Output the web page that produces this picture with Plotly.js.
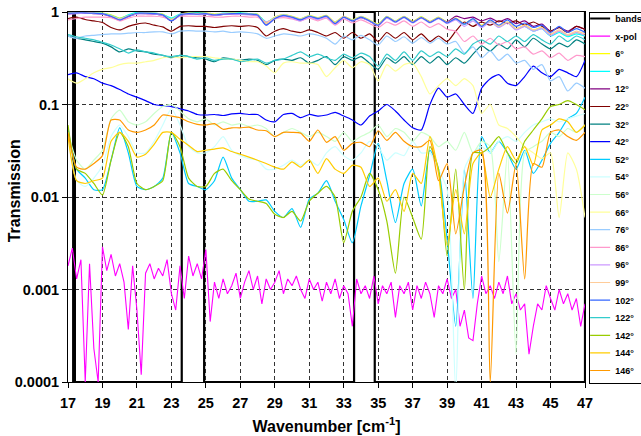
<!DOCTYPE html>
<html>
<head>
<meta charset="utf-8">
<script src="https://cdn.plot.ly/plotly-3.0.1.min.js"></script>
<style>html,body{margin:0;padding:0;background:#fff;overflow:hidden}#chart{width:641px;height:436px}</style>
</head>
<body>
<div id="chart"></div>
<script>
// Wavenumber grids (cm^-1)
const wn = [17,17.5,18,18.5,19,19.5,20,20.5,21,21.5,22,22.5,23,23.5,24,24.5,25,25.5,26,26.5,27,27.5,28,28.5,29,29.5,30,30.5,31,31.5,32,32.5,33,33.5,34,34.5,35,35.5,36,36.5,37,37.5,38,38.5,39,39.5,40,40.5,41,41.5,42,42.5,43,43.5,44,44.5,45,45.5,46,46.5,47];
const wnFine = [17,17.25,17.5,17.75,18,18.25,18.5,18.75,19,19.25,19.5,19.75,20,20.25,20.5,20.75,21,21.25,21.5,21.75,22,22.25,22.5,22.75,23,23.25,23.5,23.75,24,24.25,24.5,24.75,25,25.25,25.5,25.75,26,26.25,26.5,26.75,27,27.25,27.5,27.75,28,28.25,28.5,28.75,29,29.25,29.5,29.75,30,30.25,30.5,30.75,31,31.25,31.5,31.75,32,32.25,32.5,32.75,33,33.25,33.5,33.75,34,34.25,34.5,34.75,35,35.25,35.5,35.75,36,36.25,36.5,36.75,37,37.25,37.5,37.75,38,38.25,38.5,38.75,39,39.25,39.5,39.75,40,40.25,40.5,40.75,41,41.25,41.5,41.75,42,42.25,42.5,42.75,43,43.25,43.5,43.75,44,44.25,44.5,44.75,45,45.25,45.5,45.75,46,46.25,46.5,46.75,47];

// Bands (outline of band regions)
const bandX = [17.3,17.3,17.4,17.4,23.6,23.6,24.9,24.9,33.6,33.6,34.8,34.8,47,47];
const bandY = [0.0001,1,1,0.0001,0.0001,1,1,0.0001,0.0001,1,1,0.0001,0.0001,1];

const xpol = [0.0018,0.0028,0.0013,0.0021, 0.0001,0.0019,0.00023,0.0001, 0.0029,0.0016,0.0024,0.0014, 0.0019,0.0012,0.00037,0.0018, 0.0006,0.00012,0.0015,0.0019, 0.0013,0.0017,0.0014,0.0021, 0.0009,0.0006,0.0018,0.0008, 0.0023,0.0014,0.0019,0.0013, 0.0027,0.00045,0.0012,0.0008, 0.0013,0.0009,0.0011,0.0015, 0.0008,0.0012,0.0016,0.001, 0.0014,0.0007,0.0013,0.001, 0.0012,0.0016,0.0009,0.0013, 0.0011,0.0014,0.001,0.0008, 0.0013,0.001,0.0012,0.00075, 0.0012,0.0009,0.0013,0.0008, 0.0011,0.0009,0.0004,0.0013, 0.0009,0.0011,0.0008,0.0014, 0.0007,0.0011,0.0009,0.0012, 0.0005,0.0011,0.0009,0.0012, 0.0006,0.0011,0.0008,0.0012, 0.0009,0.0005,0.0011,0.0009, 0.0013,0.0008,0.001,0.0004, 0.0006,0.0003,0.00028,0.0007, 0.0014,0.0009,0.0011,0.0008, 0.0012,0.0009,0.0014,0.0007, 0.0009,0.0006,0.0007,0.0002, 0.0004,0.0007,0.0006,0.0011, 0.0008,0.0006,0.001,0.0007, 0.0009,0.0006,0.0008,0.0004, 0.0007];

const t6 = [0.98,1.0,0.99,0.98,0.97,0.93,0.86,0.92,0.98,0.99, 0.97,0.95,0.84,0.94,0.98,0.97,0.98,0.95,0.96,0.98, 0.97,0.96,0.95,0.76,0.88,0.94,0.9,0.85,0.92,0.87, 0.92,0.78,0.9,0.82,0.9,0.82,0.74,0.9,0.8,0.9, 0.79,0.89,0.79,0.88,0.78,0.86,0.75,0.84,0.72,0.8, 0.7,0.78,0.66,0.72,0.64,0.68,0.56,0.62,0.55,0.6, 0.55];
const t9 = [0.96,0.99,1.0,0.99,0.97,0.92,0.85,0.93,0.99,0.98, 0.98,0.94,0.86,0.95,0.97,0.98,0.97,0.94,0.97,0.97, 0.98,0.96,0.94,0.78,0.87,0.93,0.89,0.84,0.91,0.86, 0.91,0.77,0.89,0.81,0.89,0.81,0.73,0.89,0.79,0.89, 0.78,0.88,0.78,0.87,0.77,0.84,0.73,0.83,0.7,0.79, 0.69,0.77,0.65,0.7,0.62,0.66,0.55,0.6,0.54,0.58, 0.55];
const t12 = [0.95,0.97,0.97,0.96,0.95,0.89,0.82,0.89,0.96,0.96, 0.95,0.92,0.8,0.92,0.95,0.94,0.95,0.92,0.94,0.95, 0.95,0.94,0.92,0.73,0.85,0.91,0.87,0.82,0.89,0.84, 0.9,0.76,0.88,0.8,0.87,0.8,0.72,0.87,0.78,0.88, 0.78,0.87,0.78,0.86,0.78,0.9,0.85,0.88,0.8,0.86, 0.78,0.85,0.75,0.8,0.7,0.74,0.62,0.68,0.62,0.7, 0.65];
const t22 = [0.85,0.88,0.83,0.8,0.77,0.68,0.64,0.7,0.74,0.76, 0.72,0.69,0.62,0.7,0.71,0.7,0.7,0.68,0.7,0.71, 0.7,0.71,0.68,0.55,0.62,0.66,0.62,0.6,0.64,0.6, 0.55,0.6,0.52,0.6,0.52,0.58,0.48,0.6,0.52,0.6, 0.5,0.58,0.48,0.55,0.48,0.62,0.78,0.7,0.78,0.72, 0.8,0.75,0.8,0.72,0.78,0.7,0.62,0.68,0.6,0.7, 0.65];
const t32 = [0.55,0.52,0.5,0.48,0.46,0.42,0.37,0.4,0.38,0.37, 0.35,0.34,0.32,0.34,0.33,0.32,0.31,0.29,0.32,0.31, 0.3,0.31,0.3,0.27,0.3,0.31,0.3,0.32,0.28,0.3, 0.33,0.27,0.33,0.3,0.33,0.28,0.24,0.32,0.28,0.33, 0.27,0.33,0.28,0.33,0.27,0.32,0.28,0.35,0.43,0.38, 0.45,0.4,0.5,0.42,0.52,0.45,0.4,0.46,0.42,0.5, 0.45];
const t42 = [0.21,0.22,0.2,0.19,0.17,0.16,0.145,0.13,0.12,0.11, 0.1,0.097,0.095,0.09,0.085,0.078,0.077,0.078,0.076,0.079, 0.08,0.078,0.078,0.068,0.065,0.078,0.08,0.072,0.078,0.075, 0.077,0.082,0.075,0.068,0.06,0.075,0.085,0.1,0.085,0.068, 0.056,0.053,0.1,0.15,0.12,0.13,0.1,0.08,0.15,0.19, 0.21,0.17,0.16,0.2,0.26,0.22,0.2,0.24,0.22,0.2, 0.3];
const t52 = [0.055,0.02,0.016,0.012,0.012,0.025,0.056,0.03,0.013,0.012, 0.013,0.016,0.05,0.03,0.014,0.013,0.012,0.015,0.027,0.016, 0.012,0.009,0.009,0.0093,0.007,0.006,0.0075,0.0047,0.0095,0.011, 0.015,0.009,0.0057,0.0032,0.008,0.017,0.038,0.015,0.0053,0.014, 0.02,0.008,0.032,0.02,0.0035,0.0004,0.02,0.0008,0.045,0.03, 0.04,0.03,0.02,0.032,0.018,0.025,0.038,0.05,0.07,0.08, 0.12];
const t54 = [0.05,0.015,0.013,0.016,0.022,0.045,0.06,0.045,0.03,0.03, 0.04,0.06,0.09,0.06,0.035,0.03,0.03,0.035,0.045,0.032, 0.028,0.026,0.025,0.02,0.02,0.022,0.025,0.022,0.025,0.022, 0.03,0.035,0.028,0.025,0.03,0.04,0.035,0.025,0.03,0.028, 0.04,0.03,0.03,0.02,0.012,0.00008,0.02,0.03,0.035,0.03, 0.04,0.045,0.04,0.05,0.06,0.065,0.07,0.065,0.07,0.075, 0.08];
const t56 = [0.05,0.025,0.02,0.025,0.032,0.07,0.087,0.065,0.06,0.065, 0.08,0.095,0.1,0.085,0.07,0.065,0.07,0.06,0.065,0.06, 0.062,0.058,0.06,0.055,0.045,0.05,0.055,0.05,0.045,0.05, 0.045,0.04,0.05,0.04,0.045,0.05,0.06,0.045,0.055,0.05, 0.04,0.05,0.045,0.035,0.04,0.032,0.05,0.03,0.04,0.035, 0.002,0.03,0.0002,0.03,0.035,0.04,0.05,0.045,0.055,0.05, 0.06];
const t66 = [0.19,0.17,0.19,0.22,0.24,0.25,0.27,0.28,0.28,0.29, 0.3,0.32,0.33,0.32,0.33,0.33,0.33,0.32,0.31,0.31, 0.3,0.29,0.29,0.26,0.22,0.28,0.29,0.28,0.28,0.27, 0.2,0.25,0.3,0.25,0.29,0.27,0.18,0.27,0.23,0.27, 0.28,0.2,0.13,0.16,0.19,0.16,0.19,0.16,0.08,0.1, 0.06,0.055,0.045,0.035,0.03,0.026,0.03,0.006,0.03,0.02, 0.006];
const t76 = [0.55,0.52,0.55,0.56,0.57,0.58,0.58,0.59,0.6,0.6, 0.61,0.61,0.58,0.62,0.63,0.62,0.62,0.61,0.62,0.6, 0.61,0.6,0.58,0.52,0.55,0.58,0.57,0.55,0.58,0.56, 0.52,0.45,0.55,0.5,0.56,0.5,0.44,0.55,0.48,0.54, 0.46,0.53,0.46,0.52,0.45,0.48,0.36,0.42,0.32,0.38, 0.3,0.35,0.28,0.3,0.24,0.27,0.18,0.2,0.14,0.17, 0.15];
const t86 = [0.82,0.85,0.88,0.88,0.88,0.87,0.8,0.86,0.9,0.9, 0.9,0.88,0.82,0.9,0.9,0.9,0.9,0.88,0.88,0.9, 0.9,0.88,0.88,0.78,0.84,0.87,0.84,0.8,0.86,0.8, 0.86,0.72,0.84,0.76,0.82,0.75,0.68,0.78,0.72,0.8, 0.7,0.78,0.68,0.75,0.65,0.62,0.48,0.55,0.45,0.52, 0.44,0.48,0.4,0.42,0.35,0.38,0.32,0.36,0.3,0.34, 0.33];
const t96 = [0.94,0.96,0.97,0.96,0.95,0.9,0.83,0.9,0.95,0.96, 0.95,0.92,0.81,0.92,0.95,0.94,0.95,0.92,0.94,0.95, 0.94,0.93,0.92,0.72,0.84,0.9,0.86,0.8,0.88,0.83, 0.88,0.74,0.87,0.79,0.87,0.79,0.71,0.86,0.77,0.87, 0.76,0.86,0.76,0.85,0.75,0.82,0.7,0.8,0.68,0.78, 0.68,0.76,0.64,0.7,0.62,0.66,0.56,0.62,0.56,0.6, 0.56];
const t99 = [0.97,0.99,0.99,0.98,0.97,0.91,0.84,0.91,0.97,0.98, 0.97,0.93,0.83,0.94,0.97,0.96,0.97,0.94,0.96,0.97, 0.96,0.95,0.94,0.75,0.87,0.93,0.89,0.84,0.91,0.86, 0.91,0.77,0.9,0.81,0.89,0.81,0.73,0.89,0.79,0.89, 0.78,0.88,0.78,0.87,0.77,0.86,0.74,0.84,0.71,0.8, 0.7,0.78,0.66,0.72,0.64,0.68,0.58,0.64,0.57,0.62, 0.58];
const t102 = [0.97,0.98,0.98,0.97,0.96,0.9,0.82,0.9,0.97,0.97, 0.96,0.93,0.8,0.93,0.96,0.95,0.96,0.93,0.95,0.96, 0.96,0.95,0.93,0.72,0.85,0.92,0.88,0.82,0.9,0.85, 0.9,0.75,0.88,0.8,0.88,0.8,0.72,0.88,0.78,0.88, 0.77,0.87,0.77,0.86,0.76,0.85,0.74,0.85,0.7,0.82, 0.72,0.82,0.7,0.76,0.68,0.72,0.6,0.7,0.6,0.66, 0.6];
const t122 = [0.57,0.54,0.52,0.5,0.47,0.44,0.4,0.36,0.39,0.37, 0.36,0.34,0.33,0.34,0.33,0.31,0.32,0.3,0.31,0.31, 0.29,0.3,0.31,0.28,0.3,0.31,0.34,0.37,0.33,0.35, 0.32,0.3,0.35,0.32,0.36,0.33,0.26,0.35,0.3,0.37, 0.3,0.38,0.33,0.37,0.33,0.4,0.35,0.45,0.5,0.45, 0.55,0.48,0.55,0.48,0.57,0.5,0.45,0.55,0.48,0.55, 0.5];
const t142 = [0.06,0.02,0.018,0.014,0.0105,0.025,0.05,0.035,0.014,0.012, 0.013,0.015,0.05,0.035,0.016,0.013,0.013,0.018,0.02,0.015, 0.012,0.0095,0.009,0.0085,0.0065,0.006,0.007,0.0055,0.009,0.011, 0.013,0.01,0.0032,0.007,0.01,0.018,0.012,0.0055,0.0015,0.01, 0.006,0.0035,0.035,0.02,0.0023,0.02,0.001,0.03,0.03,0.035, 0.045,0.03,0.023,0.04,0.053,0.07,0.095,0.1,0.11,0.1, 0.088];
const t144 = [0.045,0.015,0.014,0.015,0.016,0.04,0.05,0.04,0.027,0.029, 0.037,0.05,0.05,0.042,0.036,0.031,0.032,0.033,0.034,0.031, 0.029,0.027,0.025,0.023,0.021,0.02,0.024,0.021,0.025,0.018, 0.026,0.02,0.018,0.022,0.021,0.013,0.016,0.009,0.012,0.007, 0.018,0.014,0.045,0.018,0.003,0.012,0.004,0.023,0.03,0.01, 0.02,0.035,0.025,0.035,0.022,0.053,0.06,0.07,0.065,0.05, 0.06];
const t146 = [0.05,0.021,0.02,0.023,0.028,0.068,0.068,0.053,0.05,0.053, 0.06,0.077,0.075,0.072,0.065,0.061,0.06,0.062,0.054,0.056, 0.056,0.057,0.053,0.052,0.045,0.05,0.05,0.049,0.04,0.053, 0.039,0.045,0.032,0.038,0.039,0.035,0.052,0.041,0.05,0.04, 0.035,0.035,0.041,0.015,0.023,0.004,0.013,0.03,0.032,0.0001, 0.018,0.0067,0.023,0.0013,0.023,0.021,0.05,0.053,0.045,0.041, 0.05];

const seriesNames = ['6°','9°','12°','22°','32°','42°','52°','54°','56°','66°','76°','86°','96°','99°','102°','122°','142°','144°','146°'];
const seriesValues = [t6,t9,t12,t22,t32,t42,t52,t54,t56,t66,t76,t86,t96,t99,t102,t122,t142,t144,t146];
const seriesColors = ['#FFFF00','#00FFFF','#800080','#800000','#008080','#0000FF','#00CCFF','#CCFFFF','#CCFFCC','#FFFF99','#99CCFF','#FF99CC','#CC99FF','#FFCC99','#3366FF','#33CCCC','#99CC00','#FFCC00','#FF9900'];

const traces = [
  {x: bandX, y: bandY, name: 'bands', mode: 'lines', line: {color: '#000000', width: 2.2}},
  {x: wnFine, y: xpol, name: 'x-pol', mode: 'lines', line: {color: '#FF00FF', width: 1.1}}
];
seriesNames.forEach((n, i) => {
  traces.push({x: wn, y: seriesValues[i], name: n, mode: 'lines', line: {color: seriesColors[i], width: 1.2, shape: 'spline', smoothing: 0.6}});
});

const FONT = 'Liberation Sans, Arial, Helvetica, sans-serif';
const layout = {
  width: 641, height: 436,
  margin: {l: 68, r: 56, t: 12, b: 54, autoexpand: false},
  paper_bgcolor: '#ffffff', plot_bgcolor: '#ffffff',
  font: {family: FONT, color: '#000000'},
  showlegend: true,
  xaxis: {
    range: [17, 47], tick0: 17, dtick: 2,
    ticks: 'outside', ticklen: 5, tickcolor: '#000', tickwidth: 1,
    showline: true, linecolor: '#000', linewidth: 1, mirror: true,
    showgrid: true, gridcolor: '#333', gridwidth: 1, griddash: '4px,3px',
    zeroline: false, ticklabelstandoff: 3,
    tickfont: {family: FONT, size: 14.5, weight: 'bold'},
    title: {text: 'Wavenumber [cm<sup>-1</sup>]', font: {family: FONT, size: 16, weight: 'bold'}, standoff: 10}
  },
  yaxis: {
    type: 'log', range: [-4, 0],
    tickvals: [0.0001, 0.001, 0.01, 0.1, 1],
    ticktext: ['0.0001', '0.001', '0.01', '0.1', '1'],
    ticks: 'outside', ticklen: 5, tickcolor: '#000', tickwidth: 1,
    showline: true, linecolor: '#000', linewidth: 1, mirror: true,
    showgrid: true, gridcolor: '#333', gridwidth: 1, griddash: '4px,3px',
    zeroline: false,
    tickfont: {family: FONT, size: 14.5, weight: 'bold'}
  },
  legend: {
    x: 1.008, xanchor: 'left', y: 1, yanchor: 'top',
    bgcolor: '#ffffff', bordercolor: '#000', borderwidth: 1,
    font: {family: FONT, size: 9, weight: 'bold'},
    itemwidth: 30, tracegroupgap: 0, indentation: -15, maxheight: 440
  },
  annotations: [{
    text: 'Transmission', textangle: -90, showarrow: false,
    xref: 'paper', yref: 'paper', x: -0.104, y: 0.516, xanchor: 'center', yanchor: 'middle',
    font: {family: FONT, size: 16, weight: 'bold'}
  }]
};

Plotly.newPlot('chart', traces, layout, {displayModeBar: false, staticPlot: true}).then(function (gd) {
  // tighten legend row spacing to match the reference (rows ~17.6 px apart, box as tall as the plot)
  var leg = gd.querySelector('g.legend');
  if (!leg) return;
  var items = leg.querySelectorAll('g.traces');
  var step = 17.6, shift = -9, y0 = null;
  items.forEach(function (g, i) {
    var t = g.getAttribute('transform') || '';
    var m = /translate\(\s*([-\d.eE]+)[\s,]+([-\d.eE]+)\s*\)/.exec(t);
    if (!m) return;
    var x = parseFloat(m[1]), y = parseFloat(m[2]);
    if (y0 === null) y0 = y;
    g.setAttribute('transform', 'translate(' + x + ',' + (y0 + shift + i * step) + ')');
  });
  var bg = leg.querySelector('rect.bg');
  if (bg) bg.setAttribute('height', 371);
});
</script>
</body>
</html>
